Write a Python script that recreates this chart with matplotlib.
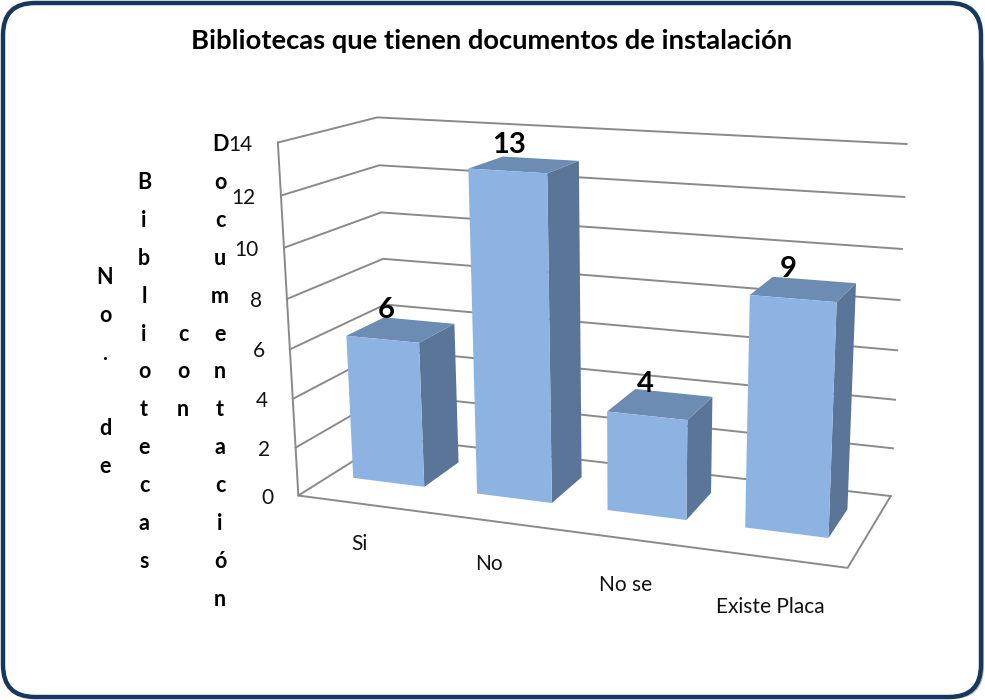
import matplotlib as mpl
from matplotlib import pyplot as plt
from matplotlib.patches import FancyBboxPatch, Polygon
import numpy as np

mpl.use('Agg')
plt.rcParams['font.family'] = ['Lato', 'DejaVu Sans']

title = 'Bibliotecas que tienen documentos de instalación'
categories = ['Si', 'No', 'No se', 'Existe Placa']
values = [6, 13, 4, 9]
y_ticks = [0, 2, 4, 6, 8, 10, 12, 14]
y_title_words = ['No. de', 'Bibliotecas', 'con', 'Documentación']

# box corners (category, depth, value) and where they land in the picture
box_3d = [(0, 0, 0), (0, 0, 14), (0, 1, 0), (0, 1, 14), (1, 1, 0), (1, 1, 14), (1, 0, 0)]
box_px = [(296, 495), (280, 143), (393, 438), (375, 117), (890, 496), (907, 144), (848, 568)]


def fit_camera(pts, pix):
    rows = []
    for (a, b, c), (px, py) in zip(pts, pix):
        p = [a, b, c / 14, 1]
        px, py = px / 1000, py / 1000
        rows.append(p + [0, 0, 0, 0] + [-px * v for v in p])
        rows.append([0, 0, 0, 0] + p + [-py * v for v in p])
    return np.linalg.svd(np.array(rows))[2][-1].reshape(3, 4)


cam = fit_camera(box_3d, box_px)


def project(a, b, c):
    h = cam @ np.array([a, b, c / 14, 1])
    return 1000 * h[0] / h[2], 1000 * h[1] / h[2]


fig = plt.figure(figsize=(9.85, 7), dpi=100)
ax = fig.add_axes([0, 0, 1, 1])
ax.set_xlim(0, 985)
ax.set_ylim(700, 0)
ax.axis('off')

# frame with a small shadow
ax.add_patch(FancyBboxPatch((34, 34), 950, 665, boxstyle='round,pad=0,rounding_size=32',
                            fc='#b5b5b5', ec='none', zorder=0))
ax.add_patch(FancyBboxPatch((3, 3), 978, 694, boxstyle='round,pad=0,rounding_size=32',
                            fc='white', ec='#17375e', lw=3.2, zorder=1))

grid = '#8a8a8a'
for t in y_ticks:
    line = [project(0, 0, t), project(0, 1, t), project(1, 1, t)]
    ax.plot(*zip(*line), color=grid, lw=1.4, zorder=2)
    x0, y0 = project(0, 0, t)
    ax.text(x0 - 25, y0 + 2, str(t), ha='right', va='center', fontsize=15, color='#111111', zorder=6)

edges = [project(0, 0, 14), project(0, 0, 0), project(1, 0, 0), project(1, 1, 0)]
ax.plot(*zip(*edges), color=grid, lw=1.4, zorder=2)

bar_w = 0.145
d0, d1 = 0.33, 0.74
for i, (name, v) in enumerate(zip(categories, values)):
    c = (i + 0.5) / len(categories) - 0.006
    a0, a1 = c - bar_w / 2, c + bar_w / 2
    front = [project(a0, d0, 0), project(a1, d0, 0), project(a1, d0, v), project(a0, d0, v)]
    side = [project(a1, d0, 0), project(a1, d1, 0), project(a1, d1, v), project(a1, d0, v)]
    top = [project(a0, d0, v), project(a1, d0, v), project(a1, d1, v), project(a0, d1, v)]
    ax.add_patch(Polygon(side, fc='#5b7598', ec='none', zorder=3))
    ax.add_patch(Polygon(top, fc='#6c8cb4', ec='none', zorder=3))
    ax.add_patch(Polygon(front, fc='#8db3e2', ec='none', zorder=4))

    tx, ty = project(c, (d0 + d1) / 2, v)
    ax.text(tx - 15, ty - 20, str(v), ha='center', va='center', fontsize=21,
            fontweight='bold', color='black', zorder=6)
    lx, ly = project(c, 0, 0)
    ax.text(lx + 2, ly + 41 + 3 * i, name, ha='center', va='center', fontsize=15, color='#111111', zorder=6)

ax.text(492, 41, title, ha='center', va='center', fontsize=19.7, fontweight='bold', color='black', zorder=6)

# y title is stacked letter by letter in four columns
col_x = [105, 144, 183, 220]
for x, word in zip(col_x, y_title_words):
    for j, ch in enumerate(word):
        y = 370.5 + (j - (len(word) - 1) / 2) * 37.9
        ax.text(x, y + 8, ch, ha='center', va='baseline', fontsize=15.5, fontweight='bold', color='black', zorder=5)

fig.savefig('out.png', dpi=100)
